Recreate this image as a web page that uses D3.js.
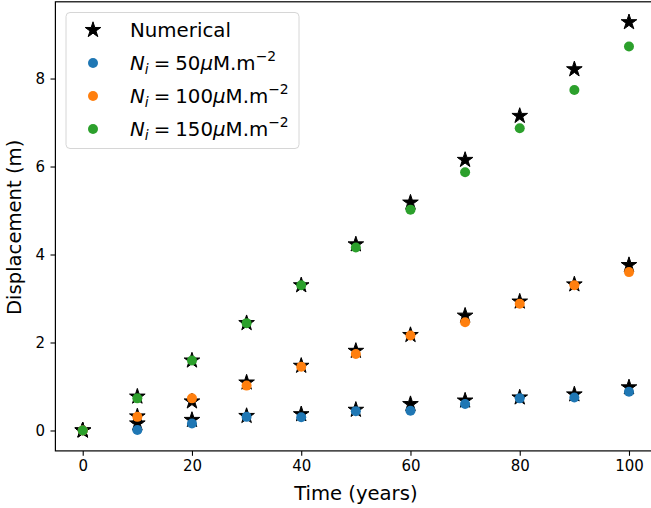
<!DOCTYPE html>
<html>
<head>
<meta charset="utf-8">
<script src="https://cdn.jsdelivr.net/npm/d3@7"></script>
<style>
  html, body { margin: 0; padding: 0; background: #fff; }
  svg { display: block; font-family: "DejaVu Sans", sans-serif; }
</style>
</head>
<body>
<svg id="chart" width="651" height="508"></svg>
<script>
// ---- data ----
const time = [0, 10, 20, 30, 40, 50, 60, 70, 80, 90, 100];
const num50  = [0, 0.16, 0.24, 0.33, 0.37, 0.47, 0.60, 0.68, 0.75, 0.82, 0.98];
const num100 = [0, 0.32, 0.66, 1.09, 1.47, 1.81, 2.17, 2.61, 2.93, 3.32, 3.76];
const num150 = [0, 0.77, 1.59, 2.44, 3.30, 4.23, 5.18, 6.15, 7.15, 8.21, 9.28];
const an50   = [0, 0.01, 0.16, 0.31, 0.30, 0.44, 0.45, 0.60, 0.73, 0.75, 0.88];
const an100  = [0, 0.31, 0.73, 1.02, 1.45, 1.74, 2.16, 2.46, 2.88, 3.30, 3.60];
const an150  = [0, 0.73, 1.59, 2.44, 3.30, 4.16, 5.02, 5.87, 6.87, 7.74, 8.73];
const seriesLabels = ["50", "100", "150"];
const seriesColors = ["#1f77b4", "#ff7f0e", "#2ca02c"];
const xTicks = [0, 20, 40, 60, 80, 100];
const yTicks = [0, 2, 4, 6, 8];
const xLabel = "Time (years)";
const yLabel = "Displacement (m)";
const numLabel = "Numerical";

// ---- layout ----
const svg = d3.select("#chart");
const pLeft = 55.4, pRight = 656.3, pTop = 1.8, pBottom = 450.9;

const allY = [].concat(num50, num100, num150, an50, an100, an150);
const yMin = d3.min(allY), yMax = d3.max(allY);
const ySpan = yMax - yMin;
const xMin = d3.min(time), xMax = d3.max(time), xSpan = xMax - xMin;

const x = d3.scaleLinear().domain([xMin - 0.05 * xSpan, xMax + 0.05 * xSpan]).range([pLeft, pRight]);
const y = d3.scaleLinear().domain([yMin - 0.05 * ySpan, yMax + 0.05 * ySpan]).range([pBottom, pTop]);

// axes
const xAxis = d3.axisBottom(x).tickValues(xTicks).tickSize(4.9).tickPadding(4.2).tickFormat(d3.format("d"));
const yAxis = d3.axisLeft(y).tickValues(yTicks).tickSize(4.9).tickPadding(5.5).tickFormat(d3.format("d"));

const gx = svg.append("g").attr("transform", `translate(0,${pBottom})`).call(xAxis);
const gy = svg.append("g").attr("transform", `translate(${pLeft},0)`).call(yAxis);
[gx, gy].forEach(g => {
  g.select(".domain").remove();
  g.selectAll(".tick line").attr("stroke", "#000").attr("stroke-width", 1.1);
  g.selectAll(".tick text").attr("fill", "#000").attr("font-size", "15px")
    .attr("font-family", "DejaVu Sans");
});

// star path generator (matplotlib-like 5-point star)
function starPath(R) {
  const r = R * 0.381966;
  const pts = [];
  for (let i = 0; i < 10; i++) {
    const a = -Math.PI / 2 + i * Math.PI / 5;
    const rad = i % 2 === 0 ? R : r;
    pts.push([rad * Math.cos(a), rad * Math.sin(a)]);
  }
  return "M" + pts.map(p => p[0].toFixed(2) + "," + p[1].toFixed(2)).join("L") + "Z";
}
const STAR = starPath(8.2);

const plot = svg.append("g");
const numSeries = [num50, num100, num150];
const anSeries = [an50, an100, an150];

// stars first
numSeries.forEach(vals => {
  plot.append("g").selectAll("path").data(time.map((t, i) => [t, vals[i]])).join("path")
    .attr("d", STAR)
    .attr("transform", d => `translate(${x(d[0])},${y(d[1])})`)
    .attr("fill", "#000").attr("stroke", "#000").attr("stroke-width", 1).attr("stroke-linejoin", "miter");
});
// dots on top
anSeries.forEach((vals, k) => {
  plot.append("g").selectAll("circle").data(time.map((t, i) => [t, vals[i]])).join("circle")
    .attr("cx", d => x(d[0])).attr("cy", d => y(d[1])).attr("r", 5)
    .attr("fill", seriesColors[k]);
});

// spines
svg.append("rect").attr("x", pLeft).attr("y", pTop).attr("width", pRight - pLeft).attr("height", pBottom - pTop)
  .attr("fill", "none").attr("stroke", "#000").attr("stroke-width", 1.2);

// axis labels
svg.append("text").attr("x", (pLeft + pRight) / 2).attr("y", 500).attr("text-anchor", "middle")
  .attr("font-size", "19.6px").text(xLabel);
svg.append("text").attr("transform", `translate(21,${(pTop + pBottom) / 2 + 1}) rotate(-90)`)
  .attr("text-anchor", "middle").attr("font-size", "19.6px").text(yLabel);

// legend
const lg = svg.append("g");
lg.append("rect").attr("x", 66).attr("y", 12.5).attr("width", 233).attr("height", 136).attr("rx", 4)
  .attr("fill", "#fff").attr("fill-opacity", 0.8).attr("stroke", "#d6d6d6").attr("stroke-width", 1);
const rowY = [30, 63, 96, 129];
const mkX = 93, txX = 130;
const fs = 19.8;
lg.append("path").attr("d", STAR).attr("transform", `translate(${mkX},${rowY[0]})`).attr("fill", "#000").attr("stroke", "#000");
lg.append("text").attr("x", txX).attr("y", rowY[0] + 7).attr("font-size", fs + "px").text(numLabel);
seriesLabels.forEach((lab, k) => {
  const yy = rowY[k + 1];
  lg.append("circle").attr("cx", mkX).attr("cy", yy).attr("r", 5).attr("fill", seriesColors[k]);
  const t = lg.append("text").attr("x", txX).attr("y", yy + 7).attr("font-size", fs + "px");
  t.append("tspan").attr("font-style", "italic").text("N");
  t.append("tspan").attr("font-style", "italic").attr("font-size", "13.9px").attr("dy", 4).text("i");
  t.append("tspan").attr("dy", -4).attr("dx", 5).text("=");
  t.append("tspan").attr("dx", 5).text(lab);
  t.append("tspan").attr("font-style", "italic").text("μ");
  t.append("tspan").text("M.m");
  t.append("tspan").attr("font-size", "13.9px").attr("dy", -9).text("−2");
});
</script>
</body>
</html>
